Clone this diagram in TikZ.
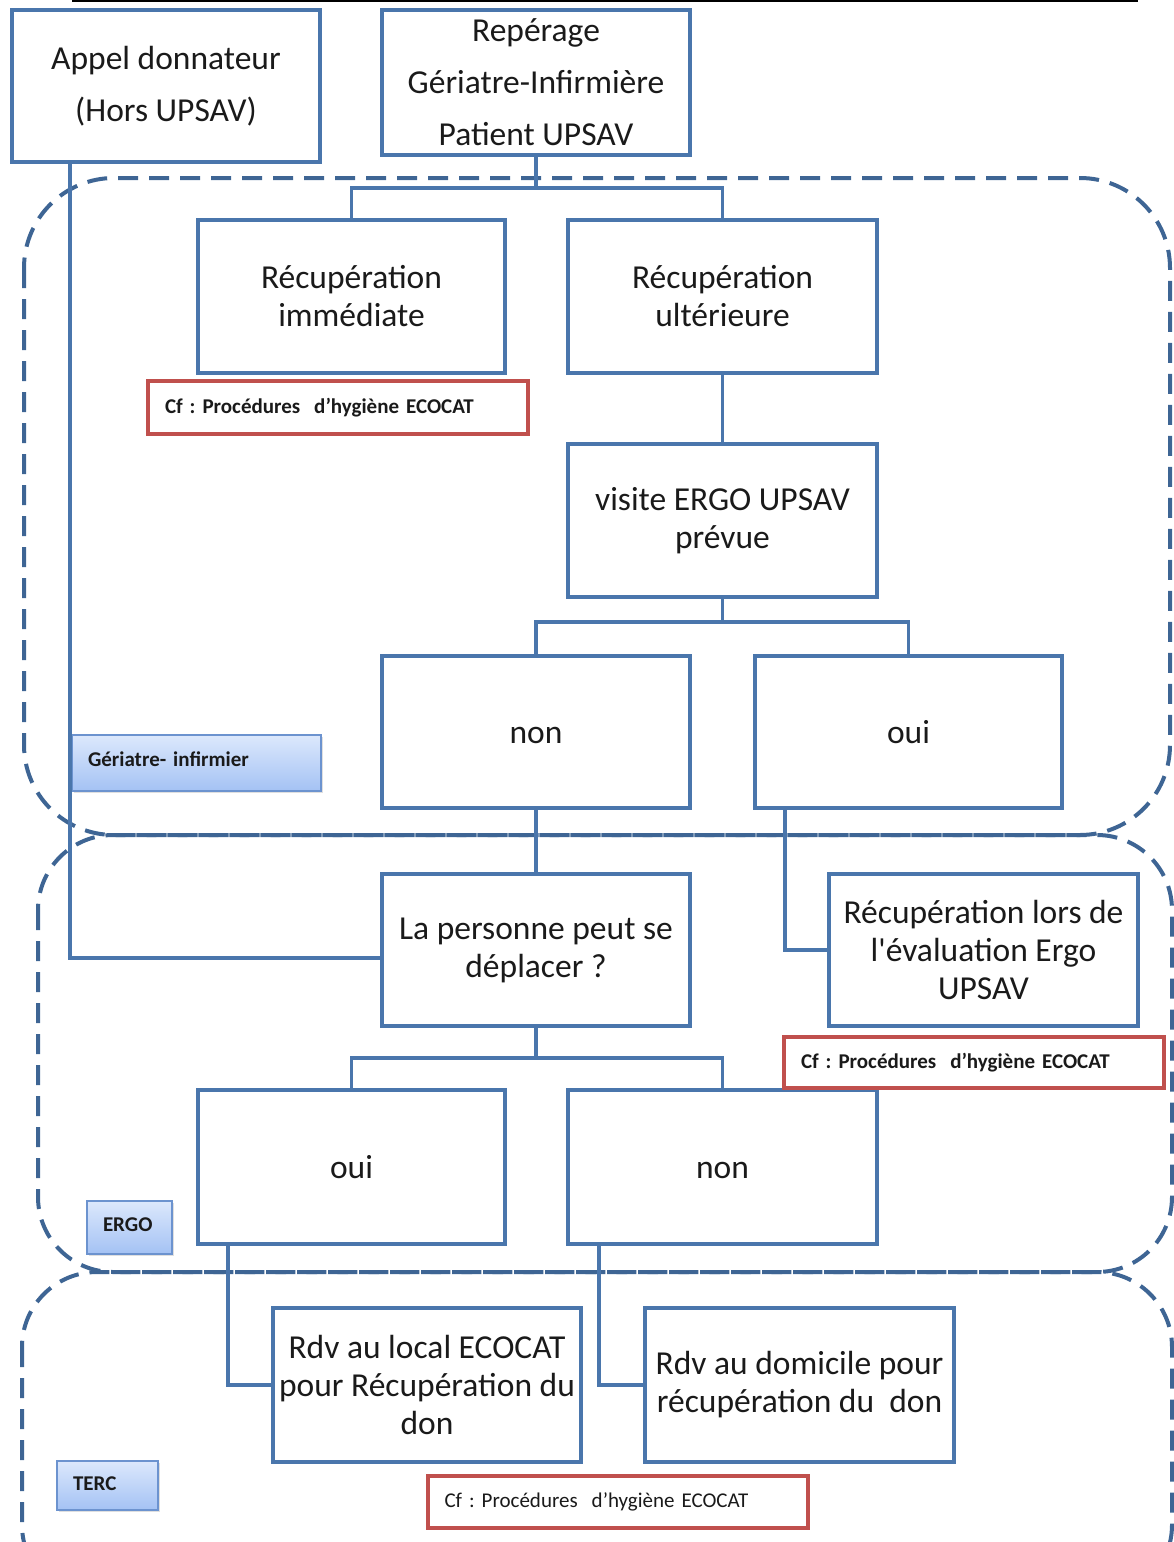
\documentclass[tikz,border=0pt]{standalone}
\usepackage{fontspec}
\setmainfont{Carlito}
\usetikzlibrary{shadows}
\definecolor{boxblue}{HTML}{4A76AC}
\definecolor{dashblue}{HTML}{3E6594}
\definecolor{cfred}{HTML}{C0504D}
\definecolor{lbltop}{HTML}{DCE8FC}
\definecolor{lblbot}{HTML}{A4C2F4}
\definecolor{lblborder}{HTML}{6C93CF}
\definecolor{txt}{HTML}{1A1A1A}
\frenchspacing
\begin{document}
\begin{tikzpicture}[x=1pt,y=-1pt,
 box/.style={draw=boxblue, fill=white, line width=4pt, inner sep=0pt, align=center,
   font=\fontsize{33.5}{38}\selectfont, text=txt},
 conn/.style={draw=boxblue, line width=3.5pt},
 region/.style={draw=dashblue, line width=4pt, dash pattern=on 20pt off 11pt},
 cfbox/.style={draw=cfred, fill=white, line width=4pt, inner sep=0pt, minimum width=380pt,
   minimum height=52pt, text width=346pt, align=left,
   font=\fontsize{21}{24}\selectfont\bfseries, text=txt},
 lbl/.style={draw=lblborder, line width=1.5pt, top color=lbltop, bottom color=lblbot,
   drop shadow={shadow xshift=2pt, shadow yshift=-2pt, opacity=0.25},
   inner sep=0pt, align=left, font=\fontsize{21}{24}\selectfont\bfseries, text=txt}
]
\useasboundingbox (0,0) rectangle (1174,1542);
\clip (0,0) rectangle (1174,1542);

% top rule
\draw[line width=2pt] (72,1) -- (1138,1);

% dashed regions
\draw[region, rounded corners=90pt] (24,178) rectangle (1170,835);
\draw[region, rounded corners=75pt] (38,835) rectangle (1172,1272);
\draw[region, rounded corners=75pt] (22,1272) rectangle (1172,1600);

% label boxes
\node[lbl, minimum width=249pt, minimum height=56pt, text width=217pt] (lgi) at (196.5,763) {\raisebox{8pt}{Gériatre- infirmier}};
\node[lbl, minimum width=85pt, minimum height=53pt, text width=53pt] (lergo) at (129.5,1227.5) {\raisebox{6pt}{ERGO}};
\node[lbl, minimum width=101pt, minimum height=49pt, text width=69pt] (lterc) at (107.5,1485.5) {\raisebox{3pt}{TERC}};

% boxes
\node[box, minimum width=308pt, minimum height=152pt] (appel) at (166,86)
  {Appel donnateur\\[14pt](Hors UPSAV)};
\node[box, minimum width=308pt, minimum height=145pt,
  font=\fontsize{33.5}{52}\selectfont] (rep) at (536,82.5)
  {Repérage\\Gériatre-Infirmière\\Patient UPSAV};
\node[box, minimum width=307pt, minimum height=153pt] (rimm) at (351.5,296.5)
  {Récupération\\immédiate};
\node[box, minimum width=309pt, minimum height=153pt] (rult) at (722.5,296.5)
  {Récupération\\ultérieure};
\node[box, minimum width=309pt, minimum height=153pt] (visite) at (722.5,520.5)
  {visite ERGO UPSAV\\prévue};
\node[box, minimum width=308pt, minimum height=152pt] (non) at (536,732) {\vphantom{i}non};
\node[box, minimum width=307pt, minimum height=152pt] (oui) at (908.5,732) {oui};
\node[box, minimum width=308pt, minimum height=152pt] (pers) at (536,950)
  {La personne peut se\\déplacer ?};
\node[box, minimum width=309pt, minimum height=152pt] (rlors) at (983.5,950)
  {Récupération lors de\\l\textquotesingle évaluation Ergo\\UPSAV};
\node[box, minimum width=307pt, minimum height=154pt] (oui2) at (351.5,1167) {oui};
\node[box, minimum width=309pt, minimum height=154pt] (non2) at (722.5,1167) {\vphantom{i}non};
\node[box, minimum width=308pt, minimum height=154pt] (rloc) at (427,1385)
  {Rdv au local ECOCAT\\pour Récupération du\\don};
\node[box, minimum width=309pt, minimum height=154pt] (rdom) at (799.5,1385)
  {Rdv au domicile pour\\récupération du\ \ don};

% cf boxes
\node[cfbox, minimum height=53pt] (cf1) at (338,407.5) {Cf : Procédures\ \ d’hygiène ECOCAT};
\node[cfbox, minimum height=51pt] (cf2) at (974,1062.5) {Cf : Procédures\ \ d’hygiène ECOCAT};
\node[cfbox, font=\fontsize{21}{24}\selectfont, text width=346pt] (cf3) at (617.5,1502) {Cf : Procédures\ \ d’hygiène ECOCAT};

% connectors
\coordinate (j1) at (536,188);
\draw[conn] (rep.south) -- (j1);
\draw[conn] (rimm.north) |- (j1) -| (rult.north);
\draw[conn] (rult.south) -- (visite.north);
\coordinate (j2) at (722.5,622);
\draw[conn] (visite.south) -- (j2);
\draw[conn] (non.north) |- (j2) -| (oui.north);
\draw[conn] (non.south) -- (pers.north);
\draw[conn] ([xshift=-123.5pt]oui.south) |- (rlors.west);
\draw[conn] ([xshift=-96pt]appel.south) |- ([yshift=-8pt]pers.west);
\coordinate (j3) at (536,1058);
\draw[conn] (pers.south) -- (j3);
\draw[conn] (oui2.north) |- (j3) -| (non2.north);
\draw[conn] ([xshift=-123.5pt]oui2.south) |- (rloc.west);
\draw[conn] ([xshift=-123.5pt]non2.south) |- (rdom.west);
\end{tikzpicture}
\end{document}
